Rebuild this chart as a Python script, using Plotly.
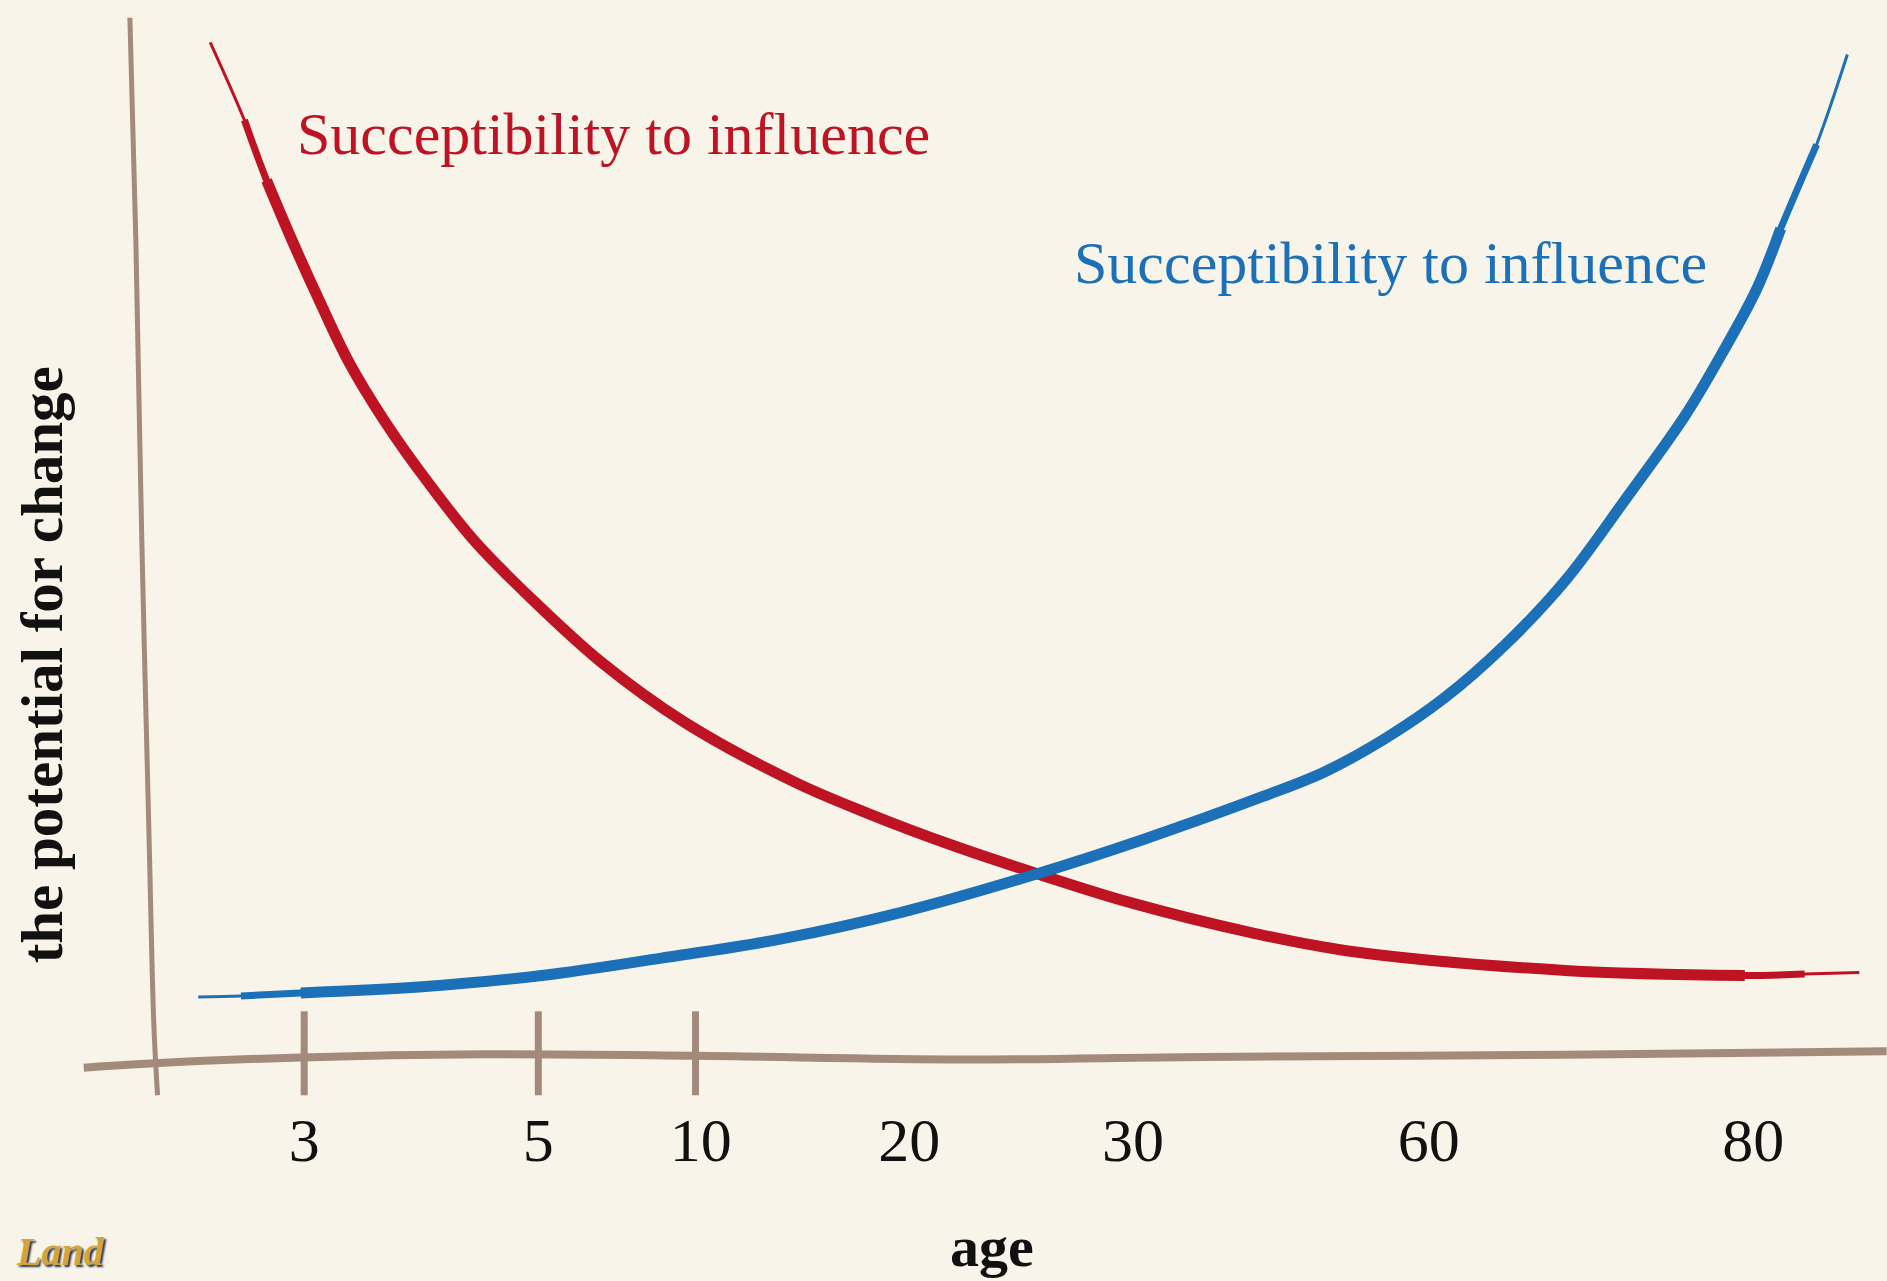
import plotly.graph_objects as go

# ---- data (chart units: x = horizontal position along the age axis, y = potential for change) ----
age_labels = ["3", "5", "10", "20", "30", "60", "80"]
age_positions = [9.0, 22.7, 32.2, 44.4, 57.5, 74.8, 93.8]
marked_ticks = [9.0, 22.7, 31.9]

red_x = [3.5, 5.5, 6.8, 8.3, 9.9, 11.6, 13.7, 16.2, 19.0, 22.5, 26.4, 31.3, 37.7,
         41.9, 46.8, 51.8, 57.4, 64.4, 70.1, 82.8, 93.3, 96.8, 100.0]
red_y = [99.4, 91.8, 85.9, 80.0, 74.1, 68.2, 62.4, 56.5, 50.6, 44.7, 38.8, 32.9, 27.1,
         24.1, 21.0, 18.2, 15.3, 12.4, 10.6, 8.7, 8.2, 8.35, 8.5]

blue_x = [2.8, 5.3, 8.8, 15.9, 22.9, 29.9, 37.0, 44.0, 51.8, 58.1, 65.1, 68.7, 72.2,
          75.7, 79.2, 82.8, 86.3, 89.8, 91.9, 94.0, 95.4, 97.5, 99.3]
blue_y = [6.1, 6.2, 6.5, 7.1, 8.2, 9.9, 11.8, 14.4, 18.1, 21.5, 25.7, 28.1, 31.3,
          35.3, 40.4, 46.8, 54.7, 62.9, 68.8, 75.3, 81.2, 89.4, 98.2]

xaxis_line_x = [-3.9, 0.0, 8.8, 19.4, 32.0, 47.5, 61.6, 82.8, 101.6]
xaxis_line_y = [-0.8, -0.4, 0.2, 0.5, 0.35, 0.0, 0.25, 0.45, 0.8]
yaxis_line_x = [-1.2, -0.85, -0.5, -0.07, 0.2, 0.42]
yaxis_line_y = [101.8, 80.0, 50.6, 21.2, 3.5, -3.5]
tick_y = [4.7, -3.5]

series_label = "Succeptibility to influence"

BG = "#f8f4e9"
RED = "#bd1322"
BLUE = "#1b70b8"
BROWN = "#a38a7b"
SERIF = "Liberation Serif, Times New Roman, serif"

fig = go.Figure()


def brush(xs, ys, color, widths):
    """Draw a stroke as nested slices so the ends taper like a brush."""
    n = len(xs)
    for k, w in enumerate(widths):
        a, b = k, n - k
        fig.add_trace(go.Scatter(x=xs[a:b], y=ys[a:b], mode="lines",
                                 line=dict(color=color, width=w, shape="spline"),
                                 hoverinfo="skip"))


# hand-drawn axes
fig.add_trace(go.Scatter(x=xaxis_line_x, y=xaxis_line_y, mode="lines",
                         line=dict(color=BROWN, width=8, shape="spline"), hoverinfo="skip"))
fig.add_trace(go.Scatter(x=yaxis_line_x, y=yaxis_line_y, mode="lines",
                         line=dict(color=BROWN, width=5, shape="spline"), hoverinfo="skip"))
for tx in marked_ticks:
    fig.add_trace(go.Scatter(x=[tx, tx], y=tick_y, mode="lines",
                             line=dict(color=BROWN, width=7), hoverinfo="skip"))

# curves
brush(red_x, red_y, RED, [3, 7, 11])
brush(blue_x, blue_y, BLUE, [3, 7, 11])

# series labels
fig.add_annotation(x=8.45, y=90.4, xref="x", yref="y", text=series_label, showarrow=False,
                   xanchor="left", yanchor="middle", font=dict(family=SERIF, size=60, color=RED))
fig.add_annotation(x=53.95, y=77.8, xref="x", yref="y", text=series_label, showarrow=False,
                   xanchor="left", yanchor="middle", font=dict(family=SERIF, size=60, color=BLUE))

# axis titles
fig.add_annotation(x=0.022, y=0.481, xref="paper", yref="paper", text="<b>the potential for change</b>",
                   showarrow=False, textangle=-90, xanchor="center", yanchor="middle",
                   font=dict(family=SERIF, size=59, color="#111111"))
fig.add_annotation(x=0.5257, y=0.027, xref="paper", yref="paper", text="<b>age</b>",
                   showarrow=False, xanchor="center", yanchor="middle",
                   font=dict(family=SERIF, size=58, color="#111111"))

# small logo text at bottom-left
fig.add_annotation(x=0.032, y=0.004, xref="paper", yref="paper", text="<b><i>Land</i></b>",
                   showarrow=False, xanchor="center", yanchor="bottom",
                   font=dict(family=SERIF, size=40, color="#d3a43e", shadow="2px 2px 2px #1d3550"))

fig.update_layout(
    width=1887, height=1281,
    margin=dict(l=0, r=0, t=0, b=0),
    paper_bgcolor=BG, plot_bgcolor=BG,
    showlegend=False,
    xaxis=dict(range=[-8.80, 101.62], showgrid=False, zeroline=False, showline=False,
               tickmode="array", tickvals=age_positions, ticktext=age_labels, ticks="",
               anchor="free", position=0.143,
               tickfont=dict(family=SERIF, size=62, color="#111111"), fixedrange=True),
    yaxis=dict(range=[-21.65, 103.53], showgrid=False, zeroline=False, showline=False,
               showticklabels=False, ticks="", fixedrange=True),
)

fig.write_html("out.html", config={"displayModeBar": False},
               post_script="document.body.style.margin='0';document.body.style.background='#f8f4e9';")
